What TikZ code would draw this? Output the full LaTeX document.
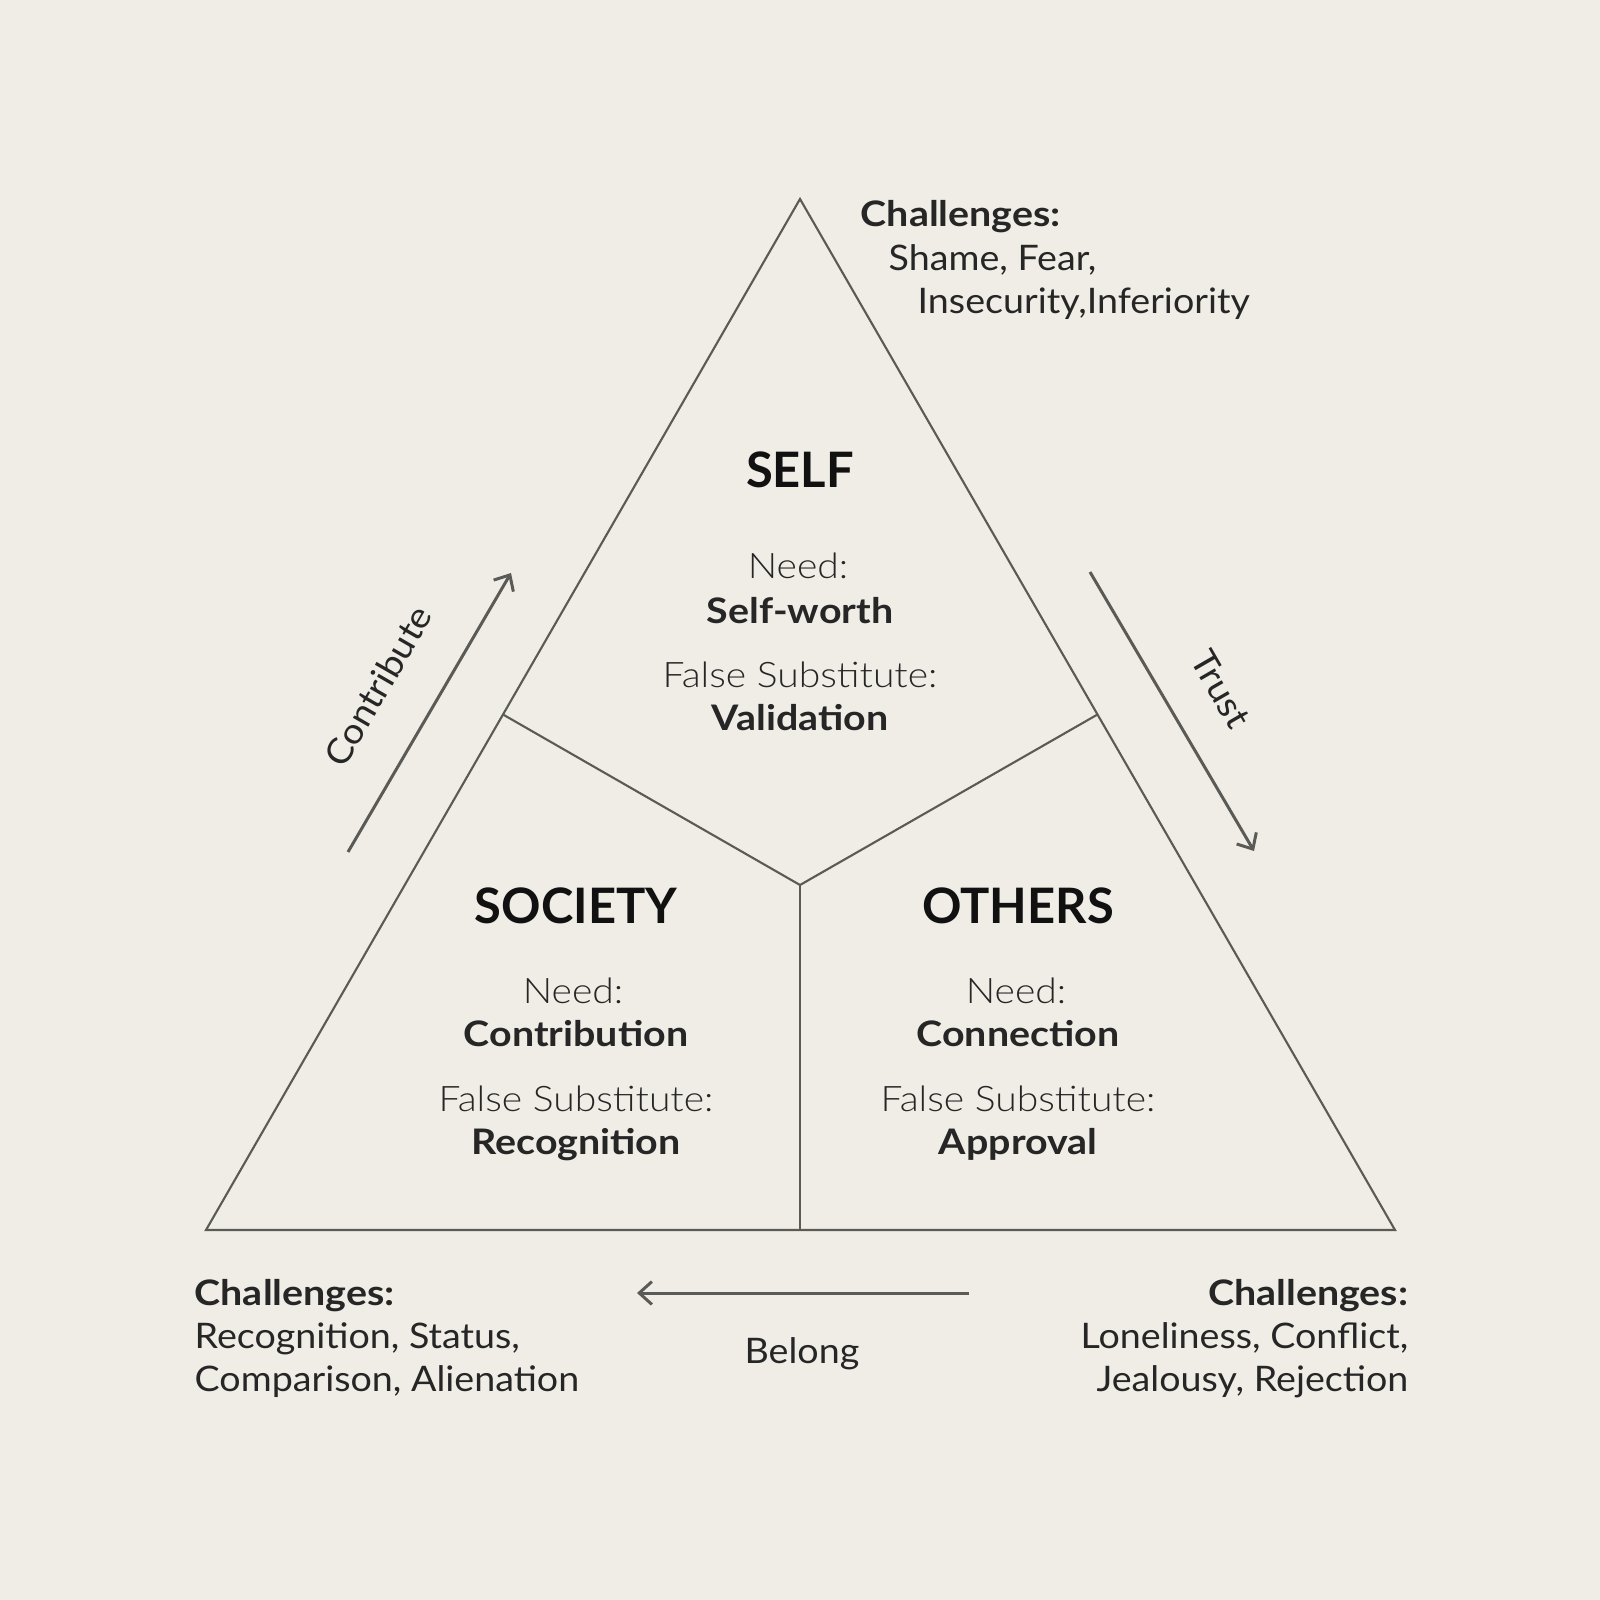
\documentclass[tikz,border=0pt]{standalone}
\usepackage{fontspec}
\setmainfont{Lato}[FakeStretch=1.07, BoldFeatures={FakeStretch=1.12}]
\newfontfamily\lightf{Lato Light}[FakeStretch=1.11]
\newfontfamily\titlef{Lato}
\usetikzlibrary{arrows.meta,calc}
\definecolor{bg}{HTML}{F0EDE6}
\definecolor{ln}{HTML}{5A5A56}
\definecolor{ink}{HTML}{262626}
\definecolor{head}{HTML}{111111}
\tikzset{
  tri/.style={draw=ln, line width=0.6pt, line join=miter},
  flow/.style={draw=ln, line width=0.85pt, -{Straight Barb[length=3.6pt,width=6.5pt,line width=0.85pt]}},
  txt/.style={inner sep=0pt, text=ink},
  title/.style={txt, anchor=base, text=head, font=\fontsize{13.9pt}{16pt}\selectfont\titlef\bfseries},
  lab/.style={txt, anchor=base, font=\fontsize{10pt}{12pt}\selectfont\lightf},
  val/.style={txt, anchor=base, font=\fontsize{10pt}{12pt}\selectfont\bfseries},
  body/.style={txt, font=\fontsize{10pt}{12pt}\selectfont},
  chal/.style={txt, font=\fontsize{10pt}{12pt}\selectfont\bfseries},
}
\begin{document}
\begin{tikzpicture}[x=0.01cm,y=-0.01cm]
\fill[bg] (0,0) rectangle (1600,1600);
\useasboundingbox (0,0) rectangle (1600,1600);
% triangle
\coordinate (A) at (800,199);
\coordinate (B) at (206,1230);
\coordinate (C) at (1395,1230);
\coordinate (O) at (800,885);
\coordinate (ML) at ($(A)!0.5!(B)$);
\coordinate (MR) at ($(A)!0.5!(C)$);
\coordinate (MB) at (800,1230);
\draw[tri] (A) -- (B) -- (C) -- cycle;
\draw[tri] (ML) -- (O) -- (MR);
\draw[tri] (O) -- (MB);
% SELF
\node[title] (self) at (800,487) {SELF};
\node[lab] (selfneedl) at (798,578) {Need:};
\node[val] (selfneed) at (800,623) {Self-worth};
\node[lab] (selffalsel) at (800,687) {False Substitute:};
\node[val] (selffalse) at (800,730) {Validation};
% SOCIETY
\node[title] (soc) at (576,923) {SOCIETY};
\node[lab] (socneedl) at (573,1003) {Need:};
\node[val] (socneed) at (576,1046) {Contribution};
\node[lab] (socfalsel) at (576,1111) {False Substitute:};
\node[val] (socfalse) at (576,1154) {Recognition};
% OTHERS
\node[title] (oth) at (1018,923) {OTHERS};
\node[lab] (othneedl) at (1016,1003) {Need:};
\node[val] (othneed) at (1018,1046) {Connection};
\node[lab] (othfalsel) at (1018,1111) {False Substitute:};
\node[val] (othfalse) at (1018,1154) {Approval};
% top right challenges
\node[chal, anchor=base west] (tc1) at (860,227) {Challenges:};
\node[body, anchor=base west] (tc2) at (888,270) {Shame, Fear,};
\node[body, anchor=base west] (tc3) at (917,313) {Insecurity,Inferiority};
% bottom left challenges
\node[chal, anchor=base west] (lc1) at (194,1305) {Challenges:};
\node[body, anchor=base west] (lc2) at (194,1348) {Recognition, Status,};
\node[body, anchor=base west] (lc3) at (194,1391) {Comparison, Alienation};
% bottom right challenges
\node[chal, anchor=base east] (rc1) at (1409,1305) {Challenges:};
\node[body, anchor=base east] (rc2) at (1409,1348) {Loneliness, Conflict,};
\node[body, anchor=base east] (rc3) at (1409,1391) {Jealousy, Rejection};
% flows
\coordinate (c1) at (348,852);
\coordinate (c2) at (511,573);
\draw[flow] (c1) -- (c2);
\node[body, rotate=60] (contrib) at (378,686) {Contribute};
\coordinate (t1) at (1090,572);
\coordinate (t2) at (1254,851);
\draw[flow] (t1) -- (t2);
\node[body, rotate=-60] (trust) at (1221,689) {Trust};
\coordinate (b1) at (969,1293);
\coordinate (b2) at (637,1293);
\draw[flow] (b1) -- (b2);
\node[body, anchor=base] (belong) at (802,1363) {Belong};
\end{tikzpicture}
\end{document}
